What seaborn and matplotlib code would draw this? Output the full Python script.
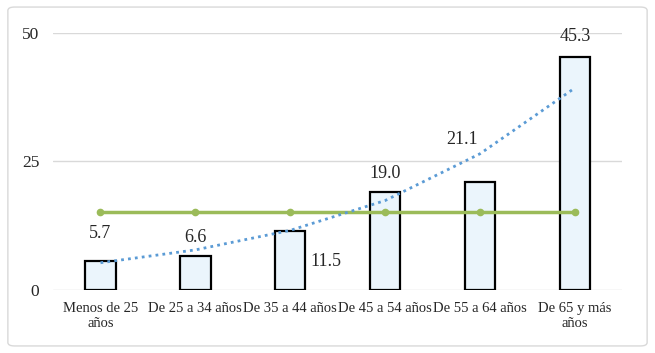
import numpy as np
import matplotlib
matplotlib.use("Agg")
import matplotlib.pyplot as plt
from matplotlib.patches import FancyBboxPatch
import seaborn as sns

# Data
categories = ["Menos de 25\naños", "De 25 a 34 años", "De 35 a 44 años",
              "De 45 a 54 años", "De 55 a 64 años", "De 65 y más\naños"]
values = [5.7, 6.6, 11.5, 19.0, 21.1, 45.3]
average = [15.2, 15.2, 15.2, 15.2, 15.2, 15.2]
trend = [5.3, 7.8, 11.6, 17.4, 26.5, 39.3]
labels = ["5.7", "6.6", "11.5", "19.0", "21.1", "45.3"]
# label placement (x offset in categories, y in data units) as in the original
label_dx = [0, 0, 0.38, 0, -0.19, 0]
label_y = [11.0, 10.3, 5.5, 22.7, 29.2, 49.3]

sns.set_style("white")
plt.rcParams["font.family"] = ["Liberation Serif", "DejaVu Serif"]

fig = plt.figure(figsize=(6.55, 3.53), dpi=100)
ax = fig.add_axes([0.081, 0.1785, 0.869, 0.728])

sns.barplot(x=categories, y=values, color="#EBF5FC", edgecolor="black",
            linewidth=1.6, width=0.32, saturation=1, ax=ax, zorder=2)

xs = np.arange(len(categories))
ax.plot(xs, average, color="#9BBB59", linewidth=2.5, marker="o",
        markersize=4.5, zorder=3)
ax.plot(xs, trend, color="#5B9BD5", linewidth=2, linestyle=(0, (1, 1.5)),
        zorder=4)

for i, (lab, dx, ly) in enumerate(zip(labels, label_dx, label_y)):
    ax.text(i + dx, ly, lab, ha="center", va="center", fontsize=13, zorder=5)

ax.set_ylim(0, 50)
ax.set_xlim(-0.5, 5.5)
ax.set_yticks([0, 25, 50])
ax.yaxis.grid(True, color="#D9D9D9", linewidth=1)
ax.set_axisbelow(True)
for s in ax.spines.values():
    s.set_visible(False)
ax.tick_params(axis="y", labelsize=12.5, length=0, pad=10)
ax.tick_params(axis="x", labelsize=10.5, length=0, pad=9)
for t in ax.get_xticklabels():
    t.set_multialignment("center")
ax.set_xlabel("")
ax.set_ylabel("")

border = FancyBboxPatch((0.012, 0.02), 0.976, 0.96, transform=fig.transFigure,
                        boxstyle="round,pad=0,rounding_size=0.01",
                        facecolor="none", edgecolor="#D9D9D9", linewidth=1)
fig.patches.append(border)

fig.savefig("out.png", dpi=100)
